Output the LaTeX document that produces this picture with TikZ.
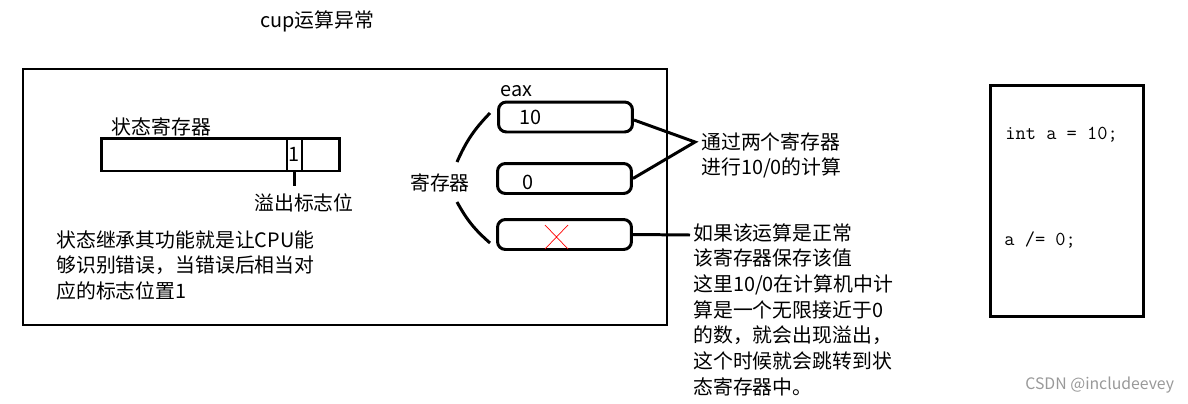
\documentclass[tikz,border=0pt]{standalone}
\usepackage{fontspec}
\setmainfont{Noto Sans CJK SC}
\usetikzlibrary{positioning}

\begin{document}
\begin{tikzpicture}[x=0.02cm, y=-0.02cm, auto,
  Txt/.style={inner sep=0pt, font=\fontsize{11.3}{14.6}\selectfont},
  Reg/.style={draw, line width=1.7pt, rounded corners=4.5pt,
    minimum width=2.68cm, minimum height=0.6cm, inner sep=0pt},
  Thick/.style={line width=1.7pt}]
\useasboundingbox (0,0) rectangle (1188,403);
\node[Txt] (Title) at (317,21) {cup运算异常};
% big frame
\draw[Thick] (23,69) rectangle (667,325);
% status register
\node[draw, Thick, minimum width=4.78cm, minimum height=0.66cm] (Status) at (220.5,154.5) {};
\node[draw, Thick, minimum width=0.3cm, minimum height=0.66cm, inner sep=0pt,
  font=\fontsize{11.3}{13}\selectfont] (Flag) at (294.5,154.5) {1};
\node[Txt, anchor=south west] (StatusLbl) at ([xshift=0.24cm]Status.north west) {状态寄存器};
\coordinate (Tick) at (294.5,186);
\draw[Thick] (Flag.south) -- (Tick);
\node[Txt] (FlagLbl) at (304,203) {溢出标志位};
\node[Txt, anchor=north west, align=left] (Desc) at (56,230)
  {状态继承其功能就是让CPU能\\够识别错误，当错误后相当对\\应的标志位置1};
% registers
\node[Reg] (Eax) at (565.5,117) {};
\node[Reg] (Zero) at (564.5,178.5) {};
\node[Reg] (Res) at (564.5,234.5) {};
\node[Txt, anchor=west] at (519,117) {10};
\node[Txt, anchor=west] at (522,182) {0};
\node[Txt, anchor=south west] (EaxLbl) at ([xshift=2pt,yshift=2pt]Eax.north west) {eax};
\draw[red, thin] (545,225) -- (568,249) (568,225) -- (545,249);
\node[Txt] (RegLbl) at (440,183) {寄存器};
\coordinate (UpA) at (457,162);
\coordinate (UpB) at (490,113);
\coordinate (LoA) at (457,202);
\coordinate (LoB) at (490,243);
\draw[Thick] (UpA) to[bend left=10] (UpB);
\draw[Thick] (LoA) to[bend right=10] (LoB);
% notes
\coordinate (Meet) at (695,142);
\draw[Thick] ([yshift=-0.06cm]Eax.east) -- (Meet) -- (Zero.east);
\node[Txt, anchor=north west, align=left] (Calc) at (701,132)
  {通过两个寄存器\\ 进行10/0的计算};
\coordinate (NoteIn) at (690,235);
\draw[Thick] (Res.east) -- (NoteIn);
\node[Txt, anchor=north west, align=left] (Note) at (693,223)
  {如果该运算是正常\\该寄存器保存该值\\这里10/0在计算机中计\\算是一个无限接近于0\\的数，就会出现溢出，\\这个时候就会跳转到状\\态寄存器中。};
% code
\node[draw, Thick, minimum width=3.08cm, minimum height=4.64cm] (Code) at (1067,201) {};
\node[Txt, anchor=west, font=\fontsize{11.3}{14}\ttfamily] (Init) at (1005,135) {int a = 10;};
\node[Txt, anchor=west, font=\fontsize{11.3}{14}\ttfamily] (Div) at (1004,240) {a /= 0;};
\node[Txt, anchor=west, text=gray!80, font=\fontsize{9}{11}\selectfont] (Mark) at (1025,385) {CSDN @includeevey};
\end{tikzpicture}
\end{document}
